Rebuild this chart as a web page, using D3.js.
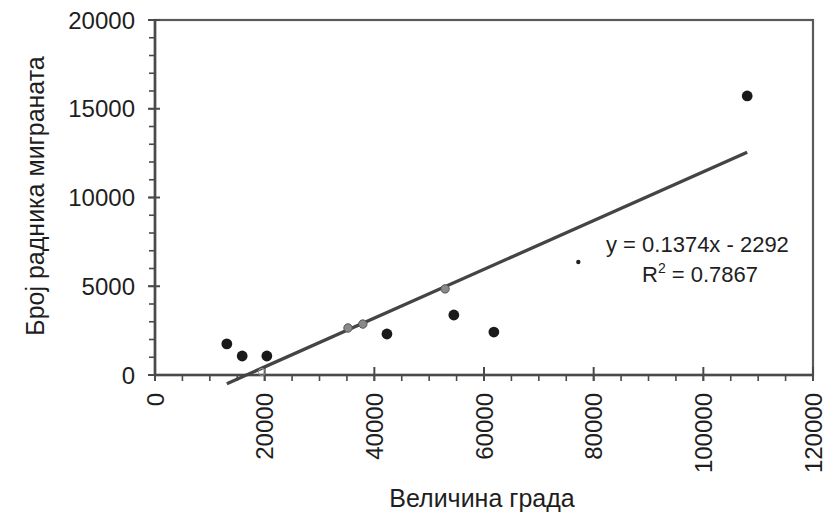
<!DOCTYPE html>
<html><head><meta charset="utf-8">
<script src="https://cdn.jsdelivr.net/npm/d3@7"></script>
<style>body{margin:0;background:#fff}</style>
</head><body><svg id="c" width="828" height="522"></svg>
<script>
// Data
const cityX = [13100, 15900, 20400, 42300, 54500, 61800, 108000];
const migrantsY = [1750, 1070, 1070, 2310, 3380, 2420, 15720];
// points lying on the trend line (printed lighter)
const onLineX = [35200, 37900, 52900];
const onLineY = [2650, 2870, 4850];
// very faint point near the axis
const faintX = [19500];
const faintY = [170];
// small point
const smallX = [77200];
const smallY = [6370];
const trendCoef = [0.1374, -2292];
const trendRange = [13100, 108000];
const xTicks = [0, 20000, 40000, 60000, 80000, 100000, 120000];
const yTicks = [0, 5000, 10000, 15000, 20000];
const xMinorStep = 5000, yMinorStep = 1000;
const eqLabels = ["y = 0.1374x - 2292", "= 0.7867"];

const svg = d3.select("#c");
const x = d3.scaleLinear().domain([0, 120000]).range([155, 813]);
const y = d3.scaleLinear().domain([0, 20000]).range([375, 20]);
const font = "'Liberation Sans', Arial, sans-serif";
const axisCol = "#4a4a4a";
const txtCol = "#1e1e1e";

// plot frame
svg.append("rect").attr("x", x(0)).attr("y", y(20000))
  .attr("width", x(120000) - x(0)).attr("height", y(0) - y(20000))
  .attr("fill", "none").attr("stroke", "#5a5a5a").attr("stroke-width", 2.2);

// minor ticks
const yMinor = d3.range(0, 20001, yMinorStep);
svg.selectAll(".ymin").data(yMinor).enter().append("line")
  .attr("x1", x(0) - 6).attr("x2", x(0)).attr("y1", d => y(d)).attr("y2", d => y(d))
  .attr("stroke", axisCol).attr("stroke-width", 1.6);
const xMinor = d3.range(0, 120001, xMinorStep);
svg.selectAll(".xmin").data(xMinor).enter().append("line")
  .attr("x1", d => x(d)).attr("x2", d => x(d)).attr("y1", y(0)).attr("y2", y(0) + 6)
  .attr("stroke", axisCol).attr("stroke-width", 1.6);
// major ticks
svg.selectAll(".ymaj").data(yTicks).enter().append("line")
  .attr("x1", x(0) - 7).attr("x2", x(0) + 5).attr("y1", d => y(d)).attr("y2", d => y(d))
  .attr("stroke", axisCol).attr("stroke-width", 2);
svg.selectAll(".xmaj").data(xTicks).enter().append("line")
  .attr("x1", d => x(d)).attr("x2", d => x(d)).attr("y1", y(0) - 8).attr("y2", y(0) + 6)
  .attr("stroke", axisCol).attr("stroke-width", 2);

// axes lines
svg.append("line").attr("x1", x(0)).attr("x2", x(0)).attr("y1", y(20000)).attr("y2", y(0))
  .attr("stroke", axisCol).attr("stroke-width", 2.6);
svg.append("line").attr("x1", x(0)).attr("x2", x(120000)).attr("y1", y(0)).attr("y2", y(0))
  .attr("stroke", axisCol).attr("stroke-width", 2.6);

// tick labels
svg.selectAll(".ylab").data(yTicks).enter().append("text")
  .attr("x", x(0) - 20).attr("y", d => y(d)).attr("dy", "0.36em")
  .attr("text-anchor", "end").attr("font-family", font).attr("font-size", 24)
  .attr("fill", txtCol).text(d => d);
svg.selectAll(".xlab").data(xTicks).enter().append("text")
  .attr("transform", d => `translate(${x(d)},${y(0) + 18}) rotate(-90)`)
  .attr("dy", "0.36em").attr("text-anchor", "end")
  .attr("font-family", font).attr("font-size", 24).attr("fill", txtCol).text(d => d);

// axis titles
svg.append("text").attr("x", 482).attr("y", 507).attr("text-anchor", "middle")
  .attr("font-family", font).attr("font-size", 25).attr("fill", txtCol).text("Величина града");
svg.append("text").attr("transform", "translate(44,196) rotate(-90)").attr("text-anchor", "middle")
  .attr("font-family", font).attr("font-size", 25).attr("fill", txtCol).text("Број радника миграната");

// trend line
svg.append("line")
  .attr("x1", x(trendRange[0])).attr("y1", y(trendCoef[0] * trendRange[0] + trendCoef[1]))
  .attr("x2", x(trendRange[1])).attr("y2", y(trendCoef[0] * trendRange[1] + trendCoef[1]))
  .attr("stroke", "#444").attr("stroke-width", 3.3);

// points
svg.selectAll(".pt").data(cityX).enter().append("circle")
  .attr("cx", d => x(d)).attr("cy", (d, i) => y(migrantsY[i])).attr("r", 5.4).attr("fill", "#1a1a1a");
svg.selectAll(".pl").data(onLineX).enter().append("circle")
  .attr("cx", d => x(d)).attr("cy", (d, i) => y(onLineY[i])).attr("r", 4.2)
  .attr("fill", "#8a8a8a").attr("stroke", "#555").attr("stroke-width", 1);
svg.selectAll(".pf").data(faintX).enter().append("circle")
  .attr("cx", d => x(d)).attr("cy", (d, i) => y(faintY[i])).attr("r", 3.5)
  .attr("fill", "none").attr("stroke", "#999").attr("stroke-width", 1);
svg.selectAll(".ps").data(smallX).enter().append("circle")
  .attr("cx", d => x(d)).attr("cy", (d, i) => y(smallY[i])).attr("r", 2.2).attr("fill", "#222");

// equation
svg.append("text").attr("x", 606).attr("y", 252).attr("font-family", font).attr("font-size", 22)
  .attr("fill", txtCol).text(eqLabels[0]);
const r2 = svg.append("text").attr("x", 642).attr("y", 282).attr("font-family", font).attr("font-size", 22)
  .attr("fill", txtCol);
r2.append("tspan").text("R");
r2.append("tspan").attr("font-size", 14).attr("dy", -9).text("2");
r2.append("tspan").attr("dy", 9).text(" " + eqLabels[1]);
</script></body></html>
